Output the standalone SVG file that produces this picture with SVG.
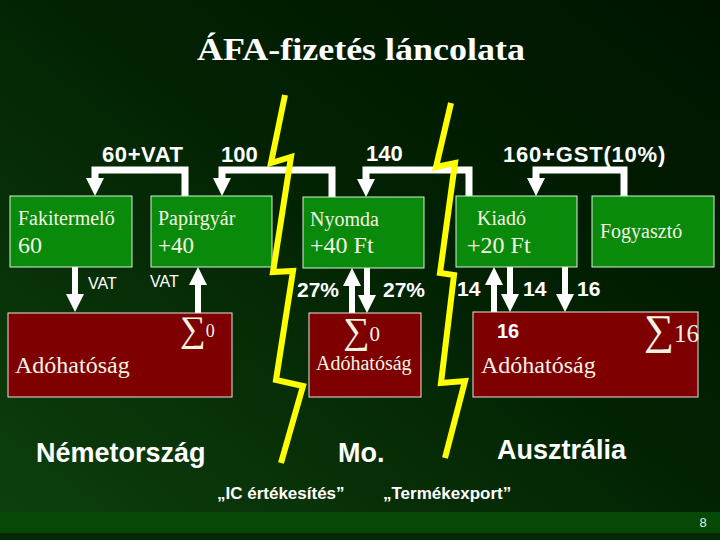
<svg xmlns="http://www.w3.org/2000/svg" width="720" height="540" viewBox="0 0 720 540">
<defs>
<linearGradient id="bg" x1="1" y1="0" x2="0" y2="1">
<stop offset="0" stop-color="#001400"/>
<stop offset="0.45" stop-color="#022202"/>
<stop offset="1" stop-color="#0e400e"/>
</linearGradient>
<marker id="ah" markerUnits="userSpaceOnUse" markerWidth="18" markerHeight="18" refX="0" refY="9" orient="auto">
<path d="M0,0 L18,9 L0,18 z" fill="#ffffff"/>
</marker>
<style>
.gbox{fill:#0a8a0a;stroke:#d8f0d8;stroke-width:1}
.rbox{fill:#7e0000;stroke:#f0e0e0;stroke-width:1}
.bt{font-family:"Liberation Serif","Times New Roman",serif;fill:#f4f4e4}
.lb{font-family:"Liberation Sans",Arial,sans-serif;font-weight:bold;fill:#ffffff}
.ln{font-family:"Liberation Sans",Arial,sans-serif;fill:#ffffff}
.con{fill:none;stroke:#ffffff;stroke-width:7;stroke-linejoin:miter;stroke-linecap:butt}
.cs{fill:none;stroke:#ffffff;stroke-width:6;stroke-linecap:butt}
.bolt{fill:none;stroke:#ffff00;stroke-width:6;stroke-linejoin:miter;stroke-miterlimit:10}
</style>
</defs>
<rect x="0" y="0" width="720" height="540" fill="url(#bg)"/>
<rect x="0" y="512" width="720" height="21" fill="#064806"/>
<rect x="0" y="533" width="720" height="7" fill="#032803"/>
<text x="361" y="60" text-anchor="middle" font-family="'Liberation Serif','Times New Roman',serif" font-weight="bold" font-size="31" fill="#ffffff" textLength="328" lengthAdjust="spacingAndGlyphs">ÁFA-fizetés láncolata</text>

<g id="connectors">
<path class="con" d="M185,196 V170 H95 V178" marker-end="url(#ah)"/>
<path class="con" d="M332,197 V170 H222 V178" marker-end="url(#ah)"/>
<path class="con" d="M469,196 V170 H366 V179" marker-end="url(#ah)"/>
<path class="con" d="M624,196 V170 H536 V178" marker-end="url(#ah)"/>
<path class="cs" d="M75,267 V294" marker-end="url(#ah)"/>
<path class="cs" d="M198,313 V285" marker-end="url(#ah)"/>
<path class="cs" d="M352,313 V286" marker-end="url(#ah)"/>
<path class="cs" d="M367,268 V295" marker-end="url(#ah)"/>
<path class="cs" d="M494,312 V285" marker-end="url(#ah)"/>
<path class="cs" d="M510,267 V294" marker-end="url(#ah)"/>
<path class="cs" d="M565,267 V294" marker-end="url(#ah)"/>
</g>

<g id="flow-labels">
<text class="lb" x="102" y="162" font-size="22" letter-spacing="0.6">60+VAT</text>
<text class="lb" x="221" y="162" font-size="22">100</text>
<text class="lb" x="366" y="161" font-size="22">140</text>
<text class="lb" x="503" y="162" font-size="22" letter-spacing="0.8">160+GST(10%)</text>
<text class="ln" x="88" y="289" font-size="16">VAT</text>
<text class="ln" x="150" y="287" font-size="16">VAT</text>
<text class="lb" x="297" y="297" font-size="21">27%</text>
<text class="lb" x="383" y="297" font-size="21">27%</text>
<text class="lb" x="457" y="296" font-size="21">14</text>
<text class="lb" x="523" y="296" font-size="21">14</text>
<text class="lb" x="577" y="296" font-size="21">16</text>
</g>

<g id="fakitermelo">
<rect class="gbox" x="10" y="196" width="122" height="71"/>
<text class="bt" x="18" y="225" font-size="20">Fakitermelő</text>
<text class="bt" x="18" y="253" font-size="24">60</text>
</g>
<g id="papirgyar">
<rect class="gbox" x="151" y="196" width="121" height="71"/>
<text class="bt" x="158" y="225" font-size="20">Papírgyár</text>
<text class="bt" x="158" y="253" font-size="23">+40</text>
</g>
<g id="nyomda">
<rect class="gbox" x="303" y="197" width="121" height="71"/>
<text class="bt" x="310" y="226" font-size="20">Nyomda</text>
<text class="bt" x="310" y="253" font-size="24">+40 Ft</text>
</g>
<g id="kiado">
<rect class="gbox" x="456" y="196" width="121" height="71"/>
<text class="bt" x="477" y="225" font-size="20">Kiadó</text>
<text class="bt" x="467" y="253" font-size="24">+20 Ft</text>
</g>
<g id="fogyaszto">
<rect class="gbox" x="592" y="196" width="122" height="71"/>
<text class="bt" x="600" y="238" font-size="20">Fogyasztó</text>
</g>

<g id="adohatosag-de">
<rect class="rbox" x="8" y="313" width="224" height="84"/>
<text class="bt" x="180" y="341"><tspan font-size="36">∑</tspan><tspan font-size="18" dy="-4">0</tspan></text>
<text class="bt" x="15" y="373" font-size="24">Adóhatóság</text>
</g>
<g id="adohatosag-hu">
<rect class="rbox" x="309" y="313" width="112" height="84"/>
<text class="bt" x="343" y="343"><tspan font-size="37">∑</tspan><tspan font-size="21" dy="-2">0</tspan></text>
<text class="bt" x="316" y="370" font-size="20">Adóhatóság</text>
</g>
<g id="adohatosag-au">
<rect class="rbox" x="473" y="312" width="225" height="85"/>
<text class="lb" x="497" y="338" font-size="20">16</text>
<text class="bt" x="644" y="344"><tspan font-size="42">∑</tspan><tspan font-size="25" dy="-2">16</tspan></text>
<text class="bt" x="481" y="373" font-size="24">Adóhatóság</text>
</g>

<g id="borders">
<polyline class="bolt" points="285,95 271,163 291,157 273,272 293,271 276,380 303,386 281,463"/>
<polyline class="bolt" points="451,103 436,167 455,163 440,273 454,275 441,383 465,381 445,458"/>
</g>

<g id="countries">
<text class="lb" x="36" y="462" font-size="27">Németország</text>
<text class="lb" x="338" y="462" font-size="27">Mo.</text>
<text class="lb" x="497" y="459" font-size="27">Ausztrália</text>
<text class="lb" x="217" y="499" font-size="17">„IC értékesítés”</text>
<text class="lb" x="383" y="499" font-size="17">„Termékexport”</text>
</g>
<text x="703" y="527" text-anchor="middle" font-family="'Liberation Sans',Arial,sans-serif" font-size="13" fill="#e0f0e0">8</text>
</svg>
